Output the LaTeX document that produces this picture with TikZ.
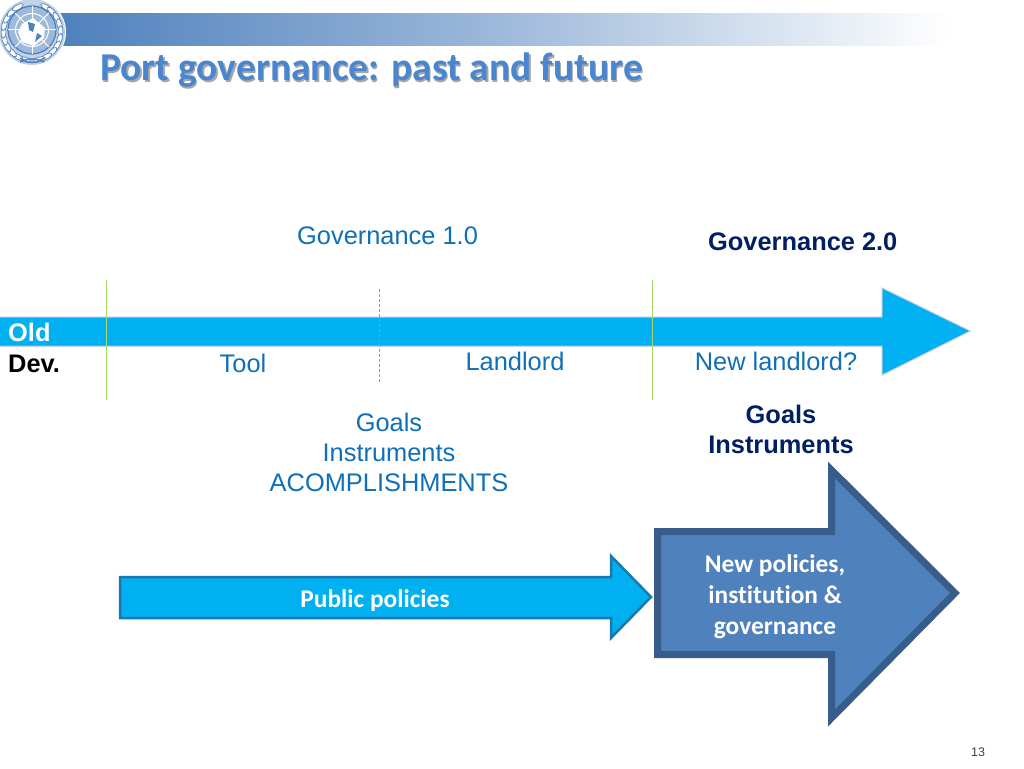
\documentclass[tikz,border=0pt]{standalone}
\usepackage{fontspec}
\setmainfont{Liberation Sans}
\newfontfamily\calibri[Ligatures=NoCommon]{Carlito}
\usetikzlibrary{calc}

\definecolor{skyfill}{HTML}{00B0F0}
\definecolor{bandblue}{HTML}{4F81BD}
\definecolor{bigborder}{HTML}{385D8A}
\definecolor{textblue}{HTML}{0F6FB7}
\definecolor{navytext}{HTML}{002060}
\definecolor{tickgreen}{HTML}{A6D86A}
\definecolor{titleblue}{HTML}{4A86D0}
\definecolor{policyborder}{HTML}{1B78AE}

\tikzset{
  plainlabel/.style={font=\fontsize{25.4}{30}\selectfont, text=textblue, inner sep=0pt, align=center},
  boldlabel/.style={font=\fontsize{25.4}{30}\selectfont\bfseries, text=navytext, inner sep=0pt, align=center},
  calibrilabel/.style={font=\calibri\fontsize{25.4}{31}\selectfont\bfseries, text=white, inner sep=0pt, align=center},
  titlelabel/.style={font=\calibri\fontsize{39.5}{44}\selectfont\bfseries, inner sep=0pt, anchor=west},
  tickline/.style={tickgreen, line width=1pt},
  leaf/.style={fill=white, draw=bandblue, line width=0.7pt},
}

\begin{document}
\begin{tikzpicture}[x=1pt, y=-1pt]
      \useasboundingbox (0,0) rectangle (1024,768);
      \fill[white] (0,0) rectangle (1024,768);

      % top band and title
      \fill[left color=bandblue, right color=white, middle color=bandblue!55] (60,14) rectangle (950,46);
      \node[titlelabel, text=black!35] (titleshadow) at (101.5,71.5) {Port governance: past and future};
      \node[titlelabel, text=titleblue] (title) at (100,70) {Port governance: past and future};

      % emblem
      \fill[white] (32,32) circle (34);
      \fill[bandblue!35] (32,32) circle (33);
      \foreach \a in {-165,-150,...,-30,30,45,...,165} {
        \draw[leaf, rotate around={-\a:(32,32)}] (32,3.5) ellipse (6.2 and 2.4);
      }
      \draw[bandblue, line width=1.5pt] (20,62) .. controls (28,58) and (36,58) .. (44,62);
      \draw[bandblue, line width=1.5pt] (20,58) .. controls (28,64) and (36,64) .. (44,58);
      \fill[bandblue!55] (32,30) circle (24);
      \draw[bandblue, line width=1.3pt] (32,30) circle (24);
      \draw[white, line width=1pt] (32,30) circle (16.5);
      \draw[white, line width=1pt] (32,30) circle (8.5);
      \foreach \a in {0,45,...,135} {
        \draw[white, line width=1pt] ($(32,30)+(\a:24)$) -- ($(32,30)+(\a+180:24)$);
      }
      \fill[white] (22,24) -- (33,18) -- (45,28) -- (44,38) -- (34,46) -- (22,42) -- (18,32) -- cycle;
      \fill[bandblue] (28,22) -- (35,24) -- (33,32) -- (29,30) -- cycle;
      \fill[bandblue] (37,33) -- (42,36) -- (35,42) -- cycle;

      % old development timeline
      \draw[fill=skyfill, draw=bandblue!45, line width=1pt] (-2,317) -- (882,317) -- (882,288) -- (970,331) -- (882,375) -- (882,346) -- (-2,346) -- cycle;

      \coordinate (tick1top) at (106.5,280);
      \coordinate (tick1bot) at (106.5,400);
      \coordinate (tick2top) at (379.5,289);
      \coordinate (tick2bot) at (379.5,382);
      \coordinate (tick3top) at (652.5,280);
      \coordinate (tick3bot) at (652.5,400);
      \draw[tickline] (tick1top) -- (tick1bot);
      \draw[tickline, densely dashed, tickgreen!80!black] (tick2top) -- (tick2bot);
      \draw[tickline] (tick3top) -- (tick3bot);

      \node[plainlabel, anchor=west] (gov1) at (297,236) {Governance 1.0};
      \node[boldlabel, anchor=west] (gov2) at (708,242) {Governance 2.0};
      \node[font=\fontsize{25.4}{30}\selectfont\bfseries, text=white, inner sep=0pt, anchor=west] (old) at (8,332) {Old};
      \node[font=\fontsize{25.4}{30}\selectfont\bfseries, text=black, inner sep=0pt, anchor=west] (dev) at (8,364) {Dev.};
      \node[plainlabel] (tool) at (243,363) {Tool};
      \node[plainlabel] (landlord) at (515,361.5) {Landlord};
      \node[plainlabel] (newlandlord) at (776,361.5) {New landlord?};
      \node[plainlabel] (goals) at (389,452) {Goals\\Instruments\\ACOMPLISHMENTS};
      \node[boldlabel] (goalsbold) at (781,429.5) {Goals\\Instruments};

      % policy arrows
      \draw[fill=skyfill, draw=policyborder, line width=2.5pt] (120,577) -- (611,577) -- (611,556) -- (651,597) -- (611,638) -- (611,618) -- (120,618) -- cycle;
      \draw[fill=bandblue, draw=bigborder, line width=7pt, miter limit=10] (657.5,531.5) -- (831.5,531.5) -- (831.5,470) -- (955,593) -- (831.5,718) -- (831.5,654.5) -- (657.5,654.5) -- cycle;

      \node[calibrilabel] (public) at (375,600.5) {Public policies};
      \node[calibrilabel] (newpol) at (775,597) {New policies,\\institution \&\\governance};

      \node[font=\fontsize{12.5}{15}\selectfont, text=black!75, inner sep=0pt] (pagenum) at (978,752) {13};
    \end{tikzpicture}
\end{document}
